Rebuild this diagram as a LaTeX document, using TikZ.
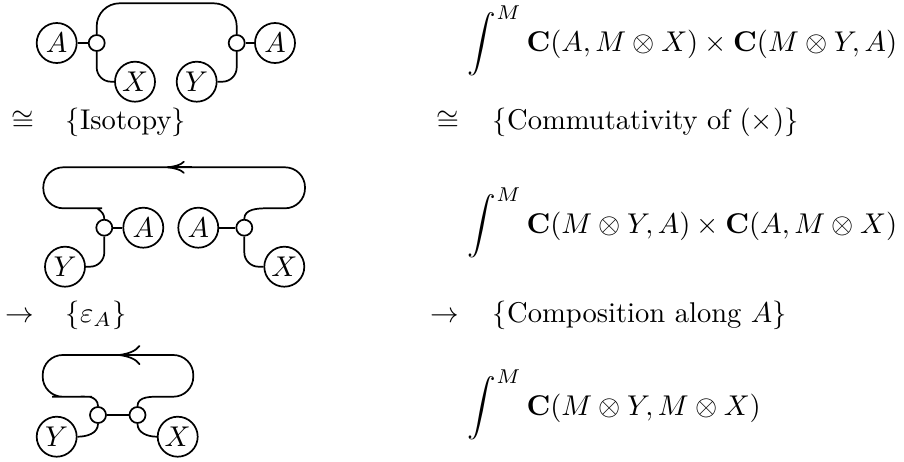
\documentclass[tikz,border=0pt]{standalone}
\usepackage{amsmath}
\usepackage{amssymb}
\usetikzlibrary{arrows.meta}

\begin{document}
\begin{tikzpicture}[x=0.35pt,y=-0.35pt,
    line width=0.6pt,
    obj/.style={draw,circle,minimum size=14pt,inner sep=0pt},
    dot/.style={draw,circle,minimum size=5.6pt,inner sep=0pt},
    txt/.style={anchor=base west,inner sep=0pt},
    rel/.style={anchor=base east,inner sep=0pt}]

\useasboundingbox (0,0) rectangle (904,461);

% First diagram
\node[obj] (a1) at (56.7,43) {$A$};
\node[dot] (d1) at (96.7,43) {};
\node[dot] (d2) at (236.7,43) {};
\node[obj] (a2) at (275,43) {$A$};
\node[obj] (x1) at (135,81.7) {$X$};
\node[obj] (y1) at (196.7,81.7) {$Y$};
\draw (a1) -- (d1);
\draw (d2) -- (a2);
\draw[rounded corners=8pt] (d1.north) |- (166,3.3) -| (d2.north);
\draw[rounded corners=5pt] (d1.south) |- (x1.west);
\draw[rounded corners=5pt] (y1.east) -| (d2.south);

% Isotopy
\node[rel] (rel1) at (35,129) {$\cong$};
\node[txt] (why1) at (65,129) {$\{$Isotopy$\}$};

% Second diagram
\node[dot] (d3) at (104.3,227.7) {};
\node[obj] (a3) at (143.3,227.7) {$A$};
\node[obj] (a4) at (198.3,227.7) {$A$};
\node[dot] (d4) at (244.3,227.7) {};
\node[obj] (y2) at (65,266.7) {$Y$};
\node[obj] (x2) at (284.3,266.7) {$X$};
\draw (d3) -- (a3);
\draw (a4) -- (d4);
\draw[rounded corners=5pt] (d3.south) |- (y2.east);
\draw[rounded corners=5pt] (d4.south) |- (x2.west);
\coordinate (l2) at (82,208.3);
\coordinate (r2) at (267,208.3);
\draw (d4.north) to[out=90,in=180] (r2) [rounded corners=7pt]
    -- (305,208.3) -- (305,167.3) -- (43.3,167.3) -- (43.3,208.3)
    -- (l2) to[out=0,in=90] (d3.north);
\coordinate (t2) at (166.7,167.3);
\draw[-{To[length=6.3pt,width=4.5pt]}] (192,167.3) -- (t2);

% Counit
\node[rel] (rel2) at (35,322.5) {$\rightarrow$};
\node[txt] (why2) at (65,322.5) {$\{\varepsilon_A\}$};

% Third diagram
\node[dot] (d5) at (98,415) {};
\node[dot] (d6) at (137.5,415) {};
\node[obj] (y3) at (56.7,436.7) {$Y$};
\node[obj] (x3) at (177.7,436.7) {$X$};
\draw (d5) -- (d6);
\draw (d5.south) to[out=-90,in=0] (y3.east);
\draw (d6.south) to[out=-90,in=180] (x3.west);
\coordinate (l3) at (72,396.7);
\coordinate (r3) at (162,396.7);
\draw (d6.north) to[out=90,in=180] (r3) [rounded corners=7pt]
    -- (193.3,396.7) -- (193.3,355) -- (42.7,355) -- (42.7,396.7)
    -- (l3) to[out=0,in=90] (d5.north);
\coordinate (t3) at (118.3,355);
\draw[-{To[length=7.7pt,width=7pt]}] (145,355) -- (t3);

% Ends
\node[txt] (e1) at (467,51)
    {$\displaystyle\int^M \mathbf{C}(A, M\otimes X)\times\mathbf{C}(M\otimes Y, A)$};
\node[rel] (rel3) at (460,129) {$\cong$};
\node[txt] (why3) at (492,129) {$\{$Commutativity of $(\times)\}$};
\node[txt] (e2) at (467,233)
    {$\displaystyle\int^M \mathbf{C}(M\otimes Y, A)\times\mathbf{C}(A, M\otimes X)$};
\node[rel] (rel4) at (460,322.5) {$\rightarrow$};
\node[txt] (why4) at (492,322.5) {$\{$Composition along $A\}$};
\node[txt] (e3) at (467,415)
    {$\displaystyle\int^M \mathbf{C}(M\otimes Y, M\otimes X)$};

\end{tikzpicture}
\end{document}
